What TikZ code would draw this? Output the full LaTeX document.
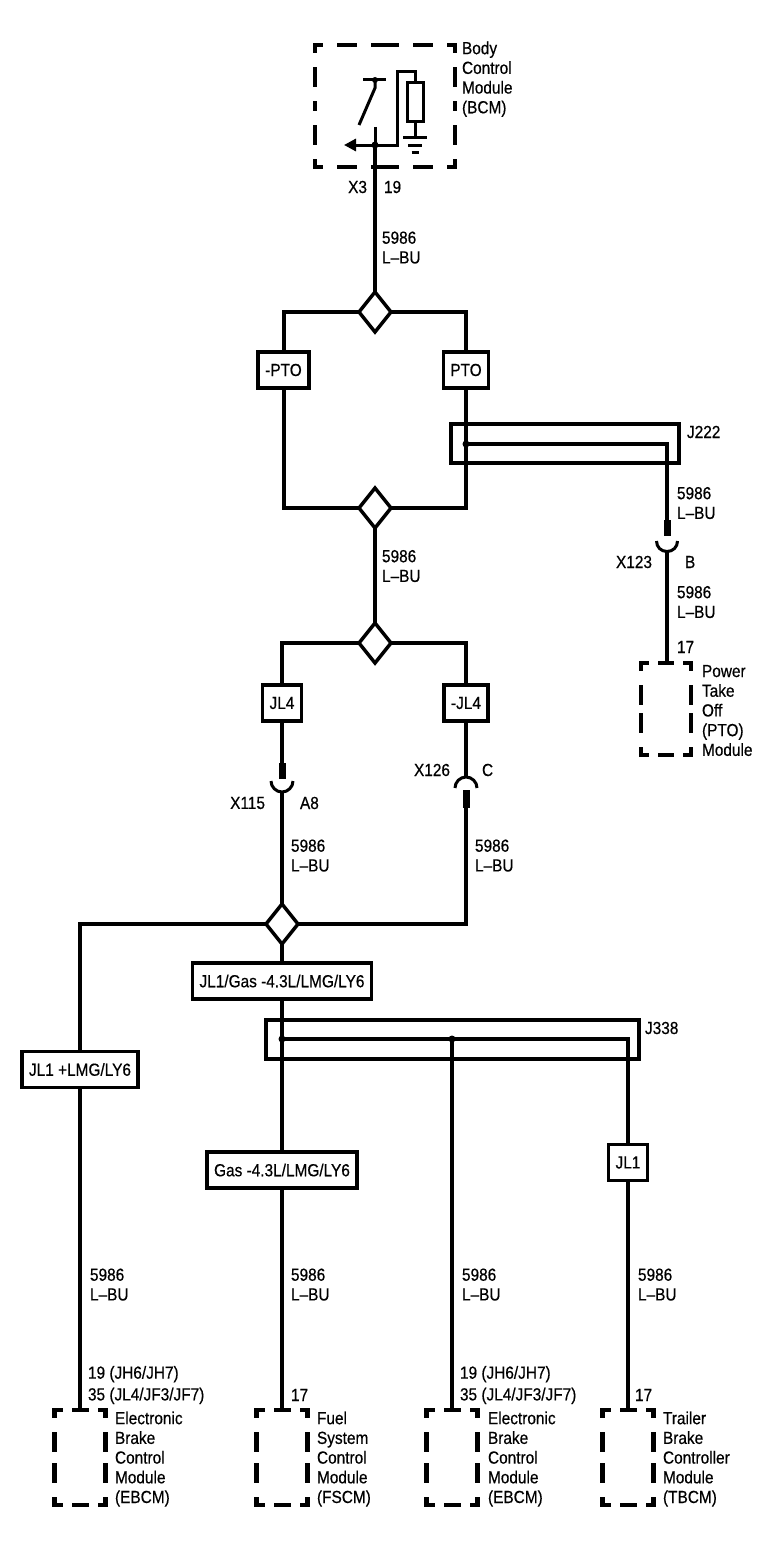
\documentclass[tikz,border=0pt]{standalone}
\usepackage{fontspec}
\setmainfont{Liberation Sans}[FakeStretch=0.88, FakeBold=0.5]
\usetikzlibrary{shapes.geometric,calc,arrows.meta}

\newcommand{\halfedge}[3]{%
  \draw[#1] (#2) -- ($(#2)!.5!(#3)$);
  \draw[#1] (#3) -- ($(#2)!.5!(#3)$);}
\newcommand{\modframe}[2]{%
  \halfedge{#2}{#1.north west}{#1.north east}
  \halfedge{#2}{#1.south west}{#1.south east}
  \halfedge{vdash}{#1.north west}{#1.south west}
  \halfedge{vdash}{#1.north east}{#1.south east}}

\begin{document}
\begin{tikzpicture}[x=1pt, y=-1pt, line width=4pt]
		\tikzstyle{every node}=[font=\fontsize{17.5}{19.7}\selectfont, inner sep=0pt, outer sep=0pt, align=left]
		\tikzstyle{opt}=[draw, line width=3.5pt, inner xsep=7pt, minimum height=36pt, align=center]
		\tikzstyle{splice}=[draw, diamond, line width=3.5pt, minimum width=32pt, minimum height=40pt]
		\tikzstyle{module}=[minimum width=51pt, minimum height=95pt]
		\tikzstyle{pinstub}=[line width=7pt]
		\tikzstyle{thin}=[line width=3pt]
		\tikzstyle{hdash}=[line width=4.5pt, line cap=rect, dash pattern=on 13.5pt off 13.5pt, dash phase=7.75pt]
		\tikzstyle{vdash}=[line width=4.5pt, line cap=rect, dash pattern=on 15.5pt off 18.5pt, dash phase=9.75pt]
		\useasboundingbox (0,0) rectangle (780,1568);

		% body control module
		\node[minimum width=140pt, minimum height=122pt] (BCM) at (385,106) {};
		\modframe{BCM}{vdash}
		\node[anchor=north west] (BCMtxt) at (462,41.5) {Body\\Control\\Module\\(BCM)};
		\coordinate (bcmpin) at (375,145);
		\draw[thin] (363,80) -- (386,80);
		\fill (375,80) circle (3pt);
		\draw[thin] (375,80) -- (375,88) -- (359,125);
		\draw[thin] (375,127) -- (bcmpin);
		\draw[thin, -{Triangle[length=12pt, width=12pt]}] (bcmpin) -- (344,145);
		\draw[thin] (bcmpin) -- (397,145) -- (397,72) -- (415,72) -- (415,83);
		\draw[thin] (407,83) rectangle (423,122);
		\draw[thin] (415,122) -- (415,138);
		\draw[thin] (403,138) -- (427,138) (408,145.5) -- (422,145.5) (411.5,152) -- (418.5,152);
		\fill (bcmpin) circle (3.5pt);
		\node[anchor=east] (X3) at (367,187) {X3};
		\node[anchor=west] (X3pin) at (384,187) {19};

		% PTO / -PTO
		\node[splice] (S1) at (375,312) {};
		\draw (bcmpin) -- (S1.north);
		\node[anchor=north west] (w1) at (382,231.5) {5986\\L--BU};
		\node[opt] (nPTO) at (283.5,370) {-PTO};
		\node[opt] (PTO) at (466,370) {PTO};
		\draw (S1.west) -| (nPTO.north);
		\draw (S1.east) -| (PTO.north);
		\node[splice] (S2) at (375,508) {};
		\draw (nPTO.south) |- (S2.west);
		\draw (PTO.south) |- (S2.east);

		% J222 to PTO module
		\node[draw, minimum width=228pt, minimum height=39pt] (J222) at (565,443.5) {};
		\node[anchor=west] (J222lbl) at (687,432) {J222};
		\coordinate (j222dot) at (466,444);
		\coordinate (X123top) at (667,536);
		\coordinate (X123bot) at (667,551.5);
		\draw (j222dot) -| (X123top);
		\fill (j222dot) circle (3.5pt);
		\node[anchor=north west] (w2) at (677,487) {5986\\L--BU};
		\draw[pinstub] (667,520) -- (X123top);
		\draw[thin] (656.5,541) .. controls (656.5,547) and (661,551.5) .. (667,551.5) .. controls (673,551.5) and (677.5,547) .. (677.5,541);
		\node[anchor=east] (X123) at (652,562) {X123};
		\node[anchor=west] (X123pin) at (685,562) {B};
		\node[anchor=north west] (w3) at (677,586) {5986\\L--BU};
		\node[anchor=west] (PTOpin) at (677,647) {17};
		\node[module, minimum width=50pt, minimum height=92pt] (PTOmod) at (666,709) {};
		\modframe{PTOmod}{hdash}
		\draw (X123bot) -- (X123bot |- PTOmod.north);
		\node[anchor=north west] (PTOtxt) at (702,665) {Power\\Take\\Off\\(PTO)\\Module};

		% JL4 / -JL4
		\node[anchor=north west] (w4) at (382,550) {5986\\L--BU};
		\node[splice] (S3) at (375,643) {};
		\draw (S2.south) -- (S3.north);
		\node[opt] (JL4) at (282,703) {JL4};
		\node[opt] (nJL4) at (466,703) {-JL4};
		\draw (S3.west) -| (JL4.north);
		\draw (S3.east) -| (nJL4.north);

		\coordinate (X115top) at (282,779);
		\coordinate (X115bot) at (282,792);
		\draw (JL4.south) -- (X115top);
		\draw[pinstub] (282,763) -- (X115top);
		\draw[thin] (271,781) .. controls (271,787) and (276,792) .. (282,792) .. controls (288,792) and (293,787) .. (293,781);
		\node[anchor=east] (X115) at (265,803) {X115};
		\node[anchor=west] (X115pin) at (300,803) {A8};

		\coordinate (X126top) at (466,777);
		\coordinate (X126bot) at (466,806);
		\draw (nJL4.south) -- (X126top);
		\draw[thin] (455,788) .. controls (455,782) and (460,777) .. (466,777) .. controls (472,777) and (477,782) .. (477,788);
		\draw[pinstub] (466,790) -- (466,808);
		\node[anchor=east] (X126) at (450,770) {X126};
		\node[anchor=west] (X126pin) at (482,770) {C};
		\node[anchor=north west] (w5) at (291,839.5) {5986\\L--BU};
		\node[anchor=north west] (w6) at (475,839.5) {5986\\L--BU};

		\node[splice] (S4) at (282,924) {};
		\draw (X115bot) -- (S4.north);
		\draw (X126bot) |- (S4.east);

		% engine options and J338
		\node[opt] (JL1LMG) at (80,1069.5) {JL1 +LMG/LY6};
		\draw (S4.west) -| (JL1LMG.north);
		\node[opt] (JL1Gas) at (282,981) {JL1/Gas -4.3L/LMG/LY6};
		\draw (S4.south) -- (JL1Gas.north);
		\node[draw, minimum width=373pt, minimum height=39pt] (J338) at (452.5,1039.5) {};
		\node[anchor=west] (J338lbl) at (645,1028) {J338};
		\node[opt] (Gas) at (282,1170) {Gas -4.3L/LMG/LY6};
		\draw (JL1Gas.south) -- (Gas.north);
		\coordinate (j338dot) at (282,1039);
		\coordinate (j338mid) at (452,1039);
		\node[opt] (JL1) at (628,1162.5) {JL1};
		\draw (j338dot) -| (JL1.north);
		\fill (j338dot) circle (3.5pt);
		\fill (j338mid) circle (3.5pt);

		% modules at the bottom
		\node[module] (EBCM1) at (80,1457.5) {};
		\node[module] (FSCM) at (282,1457.5) {};
		\node[module] (EBCM2) at (452,1457.5) {};
		\node[module] (TBCM) at (628,1457.5) {};
		\draw (JL1LMG.south) -- (EBCM1.north);
		\draw (Gas.south) -- (FSCM.north);
		\draw (j338mid) -- (EBCM2.north);
		\draw (JL1.south) -- (TBCM.north);
		\modframe{EBCM1}{hdash}
		\modframe{FSCM}{hdash}
		\modframe{EBCM2}{hdash}
		\modframe{TBCM}{hdash}

		\node[anchor=north west] (w7) at (90,1268.5) {5986\\L--BU};
		\node[anchor=north west] (w8) at (291,1268.5) {5986\\L--BU};
		\node[anchor=north west] (w9) at (462,1268.5) {5986\\L--BU};
		\node[anchor=north west] (w10) at (638,1268.5) {5986\\L--BU};
		\node[anchor=north west] (EBCM1pin) at (88,1366) {19 (JH6/JH7)\\[2pt]35 (JL4/JF3/JF7)};
		\node[anchor=west] (FSCMpin) at (291,1395) {17};
		\node[anchor=north west] (EBCM2pin) at (460,1366) {19 (JH6/JH7)\\[2pt]35 (JL4/JF3/JF7)};
		\node[anchor=west] (TBCMpin) at (635,1395) {17};
		\node[anchor=north west] (EBCM1txt) at (115,1411.5) {Electronic\\Brake\\Control\\Module\\(EBCM)};
		\node[anchor=north west] (FSCMtxt) at (317,1411.5) {Fuel\\System\\Control\\Module\\(FSCM)};
		\node[anchor=north west] (EBCM2txt) at (488,1411.5) {Electronic\\Brake\\Control\\Module\\(EBCM)};
		\node[anchor=north west] (TBCMtxt) at (663,1411.5) {Trailer\\Brake\\Controller\\Module\\(TBCM)};
\end{tikzpicture}
\end{document}
